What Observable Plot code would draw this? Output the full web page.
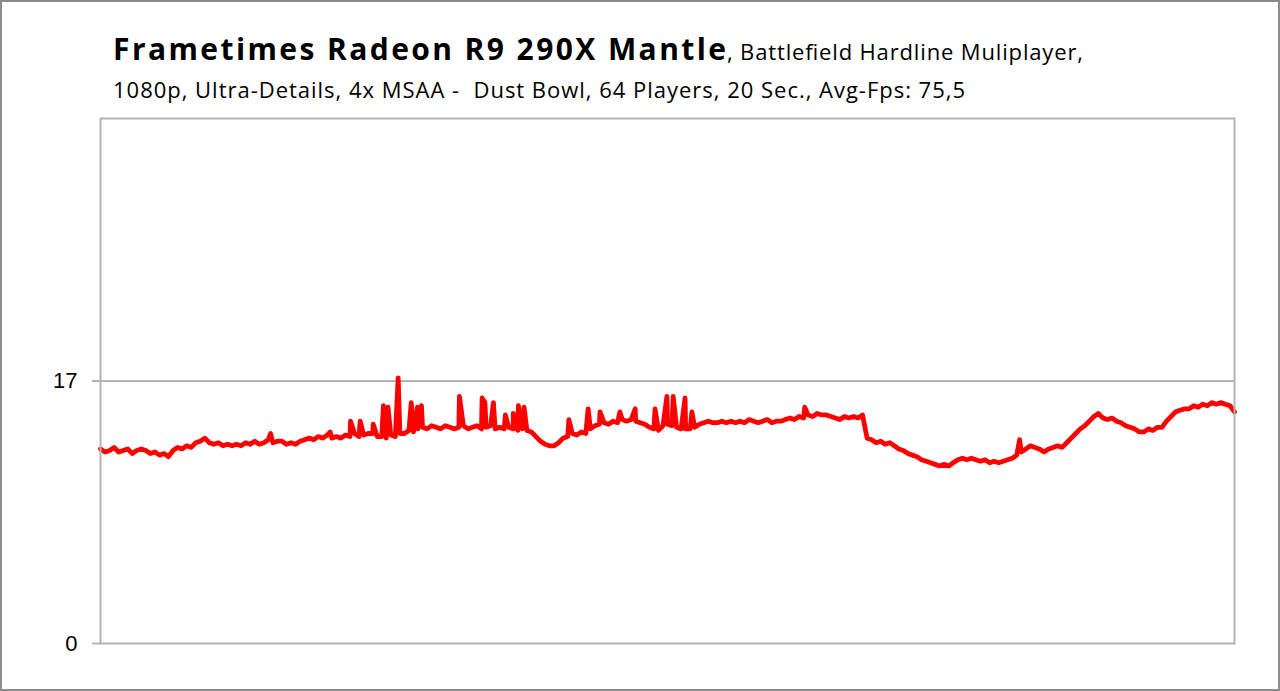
<!DOCTYPE html>
<html>
<head>
<meta charset="utf-8">
<script src="https://cdn.jsdelivr.net/npm/d3@7"></script>
<script src="https://cdn.jsdelivr.net/npm/@observablehq/plot@0.6"></script>
<style>
  html, body { margin: 0; padding: 0; background: #fff; }
  #wrap { position: relative; width: 1280px; height: 691px; overflow: hidden; background: #fff; }
  #border { position: absolute; left: 0; top: 0; width: 1280px; height: 691px; box-sizing: border-box; border: 2px solid #8c8c8c; pointer-events: none; }
  #titles { position: absolute; left: 0; top: 0; pointer-events: none; }
  #titles text { white-space: pre; }
  #chart { position: absolute; left: 0; top: 0; }
</style>
</head>
<body>
<div id="wrap">
  <div id="chart"></div>
  <svg id="titles" width="1280" height="691">
    <text x="113" y="60" font-family="'Open Sans', Lato, sans-serif" fill="#000" xml:space="preserve"><tspan font-weight="700" font-size="30px" textLength="613" lengthAdjust="spacing">Frametimes Radeon R9 290X Mantle</tspan><tspan x="727" font-size="22px" textLength="356" lengthAdjust="spacing">, Battlefield Hardline Muliplayer,</tspan></text>
    <text x="113" y="98" font-family="'Open Sans', Lato, sans-serif" font-size="22px" fill="#000" textLength="852" lengthAdjust="spacing" xml:space="preserve">1080p, Ultra-Details, 4x MSAA -  Dust Bowl, 64 Players, 20 Sec., Avg-Fps: 75,5</text>
  </svg>
  <div id="border"></div>
</div>
<script>
// Frametime samples (ms), one every 0.08 s over 20 s
const sampleStep = 0.08;
const frameTimes = [
  12.6, 12.4, 12.5, 12.7, 12.4, 12.5, 12.6, 12.3, 12.5, 12.6,
  12.5, 12.3, 12.4, 12.2, 12.3, 12.1, 12.5, 12.7, 12.6, 12.8,
  12.7, 13.0, 13.1, 13.3, 13.0, 12.9, 13.0, 12.8, 12.9, 12.8,
  12.9, 12.8, 13.0, 12.9, 13.1, 12.9, 13.0, 13.2, 13.0, 13.1,
  13.1, 12.9, 13.0, 12.9, 13.1, 13.2, 13.3, 13.2, 13.4, 13.3,
  13.5, 13.3, 13.4, 13.3, 13.5, 13.4, 13.6, 13.4, 13.5, 13.6,
  13.6, 13.4, 13.4, 13.3, 13.5, 13.4, 13.6, 13.6, 13.8, 13.7,
  13.9, 14.0, 13.9, 14.1, 14.0, 13.9, 14.1, 14.0, 13.9, 14.0,
  14.1, 13.9, 14.0, 14.1, 13.9, 14.0, 14.1, 13.9, 14.0, 13.9,
  14.0, 13.9, 13.8, 13.9, 13.8, 13.7, 13.4, 13.1, 12.9, 12.8,
  12.8, 13.0, 13.3, 13.4, 13.6, 13.5, 13.7, 13.6, 13.9, 14.1,
  14.2, 14.3, 14.2, 14.4, 14.3, 14.5, 14.4, 14.5, 14.4, 14.3,
  14.2, 14.0, 13.9, 13.8, 14.1, 14.2, 14.1, 14.0, 13.9, 13.9,
  13.9, 14.0, 14.2, 14.3, 14.4, 14.3, 14.3, 14.4, 14.3, 14.4,
  14.3, 14.4, 14.3, 14.5, 14.4, 14.3, 14.4, 14.5, 14.3, 14.4,
  14.4, 14.5, 14.6, 14.5, 14.7, 14.6, 14.8, 14.7, 14.9, 14.8,
  14.8, 14.7, 14.6, 14.5, 14.7, 14.6, 14.7, 14.6, 14.8, 13.3,
  13.2, 13.0, 13.1, 12.9, 13.0, 12.8, 12.6, 12.5, 12.3, 12.2,
  12.1, 11.9, 11.8, 11.7, 11.6, 11.5, 11.6, 11.5, 11.7, 11.9,
  12.0, 11.9, 12.0, 11.9, 11.8, 11.9, 11.7, 11.8, 11.7, 11.8,
  11.9, 12.0, 12.2, 12.4, 12.6, 12.8, 12.7, 12.6, 12.4, 12.6,
  12.7, 12.8, 12.7, 13.0, 13.3, 13.6, 13.9, 14.1, 14.4, 14.7,
  14.9, 14.6, 14.5, 14.6, 14.4, 14.3, 14.1, 14.0, 13.9, 13.7,
  13.7, 13.9, 13.8, 14.0, 14.0, 14.4, 14.7, 15.0, 15.1, 15.2,
  15.2, 15.4, 15.3, 15.5, 15.4, 15.6, 15.5, 15.6, 15.5, 15.4, 15.0
];
// Single-frame spikes: time (s) and frametime (ms)
const spikeTimes = [3.00, 4.05, 4.41, 4.58, 4.81, 4.99, 5.07, 5.25, 5.48, 5.59, 5.66, 6.33, 6.73, 6.78, 6.93, 7.14, 7.28, 7.37, 7.47, 8.26, 8.60, 8.81, 9.16, 9.43, 9.78, 9.99, 10.10, 10.31, 10.43, 12.42, 16.21];
const spikeMs    = [13.6, 13.7, 14.4, 14.4, 14.2, 15.4, 15.3, 17.2, 15.6, 15.3, 15.4, 16.0, 15.9, 15.6, 15.6, 14.8, 14.9, 15.4, 15.3, 14.5, 15.2, 15.0, 15.0, 15.2, 15.2, 16.0, 16.0, 15.9, 15.0, 15.3, 13.2];
const yTicks = [0, 17];
const xDomain = [0, 20];
const yDomain = [0, 34];

const rows = frameTimes.map((ms, i) => ({t: +(i * sampleStep).toFixed(3), ms}))
  .concat(spikeTimes.map((t, i) => ({t, ms: spikeMs[i]})))
  .sort((a, b) => a.t - b.t);

const chart = Plot.plot({
  width: 1280,
  height: 691,
  marginTop: 118,
  marginBottom: 48,
  marginLeft: 100,
  marginRight: 46,
  style: {fontFamily: "'Liberation Sans', Arial, sans-serif", fontSize: "22px", color: "#000", background: "transparent"},
  x: {domain: xDomain, axis: null},
  y: {domain: yDomain, axis: null},
  marks: [
    Plot.ruleY([17], {stroke: "#b4b4b4", strokeWidth: 2}),
    Plot.line(rows, {x: "t", y: "ms", stroke: "#ff0000", strokeWidth: 4.8, strokeLinejoin: "round", curve: "linear"}),
    Plot.frame({stroke: "#b4b4b4", strokeWidth: 2}),
    Plot.axisY({ticks: yTicks, label: null, tickSize: 8, tickPadding: 15, tickFormat: d => String(d), stroke: "#b4b4b4", strokeWidth: 2, fill: "#000", fontSize: 22})
  ]
});
document.getElementById("chart").appendChild(chart);
</script>
</body>
</html>
